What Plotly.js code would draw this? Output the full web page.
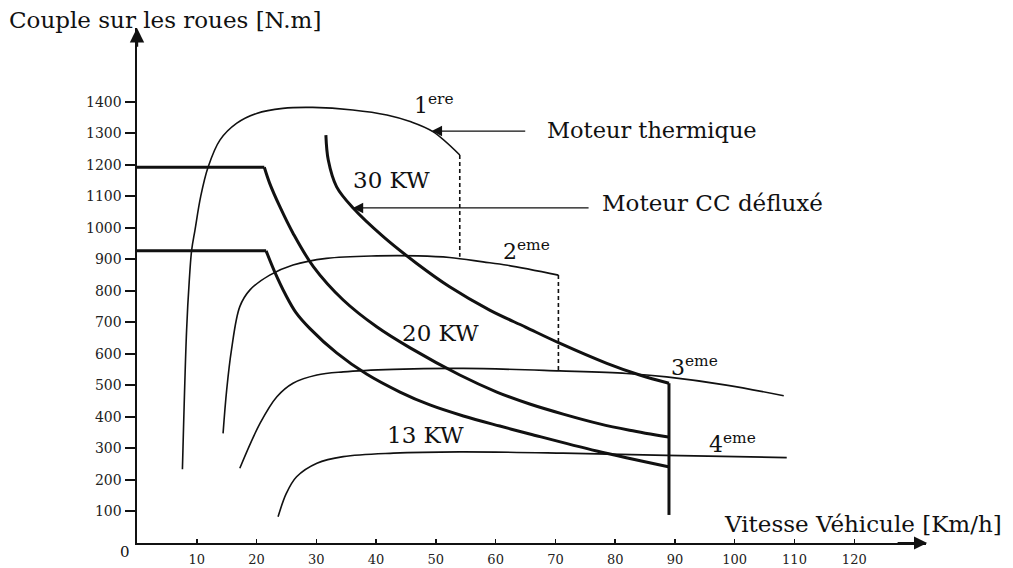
<!DOCTYPE html>
<html>
<head>
<meta charset="utf-8">
<script src="https://cdn.plot.ly/plotly-3.0.1.min.js"></script>
<style>
  html, body { margin: 0; padding: 0; background: #fff; }
  #chart { width: 1013px; height: 568px; }
</style>
</head>
<body>
<div id="chart"></div>
<script>
// Vitesse véhicule [km/h] et couple aux roues [N.m]

// Moteur thermique, rapports 1 à 4
const gear1Speed  = [7.6, 8.3, 8.75, 9.15, 9.7, 10.65, 11.9, 13.9, 16.7, 20.0, 24.4, 29.4, 36.1, 41.8, 45.7, 49.5, 54.0];
const gear1Torque = [234, 676, 834, 930, 993, 1099, 1193, 1279, 1332, 1363, 1379, 1382, 1374, 1358, 1337, 1305, 1231];

const gear2Speed  = [14.4, 15.0, 15.8, 17.2, 18.9, 22.2, 26.1, 31.7, 40.1, 47.0, 52.3, 57.9, 62.0, 70.5];
const gear2Torque = [348, 485, 612, 750, 803, 850, 882, 903, 911, 911, 906, 892, 881, 850];

const gear3Speed  = [17.2, 20.6, 23.4, 26.1, 30.1, 34.5, 42.9, 54.6, 70.7, 81.9, 88.6, 98.6, 108.2];
const gear3Torque = [237, 380, 464, 507, 533, 543, 551, 554, 546, 538, 527, 501, 467];

const gear4Speed  = [23.6, 25.0, 26.7, 30.1, 34.5, 42.9, 54.0, 71.3, 88.6, 108.7];
const gear4Torque = [83, 158, 210, 253, 274, 285, 289, 285, 278, 271];

// Passages de rapport (pointillés)
const shift12Speed  = [54.0, 54.0];
const shift12Torque = [1231, 908];
const shift23Speed  = [70.5, 70.5];
const shift23Torque = [850, 547];

// Moteur CC défluxé : 30, 20 et 13 kW
const motor30Speed  = [31.6, 32.0, 33.4, 36.2, 41.2, 46.8, 52.3, 59.0, 65.0, 70.7, 78.6, 84.1, 89.0];
const motor30Torque = [1294, 1215, 1130, 1062, 972, 887, 813, 739, 685, 634, 570, 533, 507];

const motor20FlatSpeed  = [0, 21.3];
const motor20FlatTorque = [1192, 1192];
const motor20Speed  = [21.3, 22.2, 23.9, 26.1, 29.5, 34.5, 40.1, 45.7, 54.0, 60.2, 65.7, 71.3, 77.4, 82.4, 88.9];
const motor20Torque = [1192, 1141, 1067, 983, 877, 771, 686, 619, 533, 479, 441, 409, 378, 358, 336];

const motor13FlatSpeed  = [0, 21.6];
const motor13FlatTorque = [927, 927];
const motor13Speed  = [21.6, 23.0, 24.8, 26.6, 28.9, 33.4, 38.4, 44.0, 49.0, 54.6, 60.7, 65.7, 76.9, 88.9];
const motor13Torque = [927, 862, 790, 731, 681, 603, 536, 479, 438, 403, 371, 346, 292, 242];

// Vitesse maximale
const limitSpeed  = [89.0, 89.0];
const limitTorque = [507, 89];

// Graduations
const speedTicks  = [10, 20, 30, 40, 50, 60, 70, 80, 90, 100, 110, 120];
const torqueTicks = [100, 200, 300, 400, 500, 600, 700, 800, 900, 1000, 1100, 1200, 1300, 1400];

const FONT = 'DejaVu Serif, Liberation Serif, serif';
const INK = '#111';

function curve(x, y, width, shape, dash) {
  return {
    type: 'scatter', mode: 'lines', x: x, y: y, hoverinfo: 'skip',
    line: { color: INK, width: width, shape: shape || 'spline', smoothing: 1, dash: dash || 'solid' }
  };
}

const traces = [
  curve(gear1Speed, gear1Torque, 1.6),
  curve(gear2Speed, gear2Torque, 1.6),
  curve(gear3Speed, gear3Torque, 1.6),
  curve(gear4Speed, gear4Torque, 1.6),
  curve(shift12Speed, shift12Torque, 1.6, 'linear', '4px,3px'),
  curve(shift23Speed, shift23Torque, 1.6, 'linear', '4px,3px'),
  curve(motor30Speed, motor30Torque, 3),
  curve(motor20FlatSpeed, motor20FlatTorque, 3, 'linear'),
  curve(motor20Speed, motor20Torque, 3),
  curve(motor13FlatSpeed, motor13FlatTorque, 3, 'linear'),
  curve(motor13Speed, motor13Torque, 3),
  curve(limitSpeed, limitTorque, 3, 'linear')
];

function label(x, y, text, size, ref) {
  return { x: x, y: y, xref: ref || 'x', yref: ref || 'y', xanchor: 'center', yanchor: 'middle',
           text: text, showarrow: false,
           font: { family: FONT, size: size || 23, color: INK } };
}
function pointer(x, y, ax, ay, width, size) {
  return { x: x, y: y, ax: ax, ay: ay, xref: 'x', yref: 'y', axref: 'x', ayref: 'y',
           text: '', showarrow: true, arrowhead: 2, arrowsize: size, arrowwidth: width,
           arrowcolor: INK, standoff: 0, startstandoff: 0 };
}

const annotations = [
  label(0.036, 1.016, 'Couple sur les roues [N.m]', 23, 'paper'),
  label(121.5, 60, 'Vitesse Véhicule [Km/h]', 23),
  label(-0.015, -0.018, '0', 15, 'paper'),
  label(49.7, 1393, '1<sup>ere</sup>', 22),
  label(65.2, 930, '2<sup>eme</sup>', 22),
  label(93.3, 562, '3<sup>eme</sup>', 22),
  label(99.7, 317, '4<sup>eme</sup>', 22),
  label(86.1, 1310, 'Moteur thermique', 22.5),
  label(96.3, 1079, 'Moteur CC défluxé'),
  label(42.5, 1152, '30 KW'),
  label(50.7, 666, '20 KW'),
  label(48.2, 343, '13 KW'),
  pointer(49.3, 1307, 65.2, 1307, 1.3, 1.6),
  pointer(36.1, 1063, 75.8, 1063, 1.3, 1.6),
  // flèches des axes
  pointer(0, 1634, 0, 1570, 2.4, 1.2),
  pointer(132.2, 0, 127, 0, 2.2, 1.2)
];

const layout = {
  width: 1013, height: 568,
  margin: { l: 137, r: 87, t: 28, b: 25 },
  paper_bgcolor: '#fff', plot_bgcolor: '#fff',
  showlegend: false,
  font: { family: FONT, color: INK },
  xaxis: {
    range: [0, 132], showgrid: false, zeroline: false,
    showline: true, linecolor: INK, linewidth: 2,
    ticks: 'inside', ticklen: 4, tickwidth: 1.5, tickcolor: INK,
    tickvals: speedTicks, ticklabelstandoff: 3,
    tickfont: { family: FONT, size: 13, color: '#222' }
  },
  yaxis: {
    range: [0, 1634], showgrid: false, zeroline: false,
    showline: true, linecolor: INK, linewidth: 2.5,
    ticks: 'outside', ticklen: 10, tickwidth: 2, tickcolor: INK,
    tickvals: torqueTicks,
    tickfont: { family: FONT, size: 14, color: '#222' }
  },
  annotations: annotations
};

Plotly.newPlot('chart', traces, layout, { staticPlot: true, displayModeBar: false });
</script>
</body>
</html>
